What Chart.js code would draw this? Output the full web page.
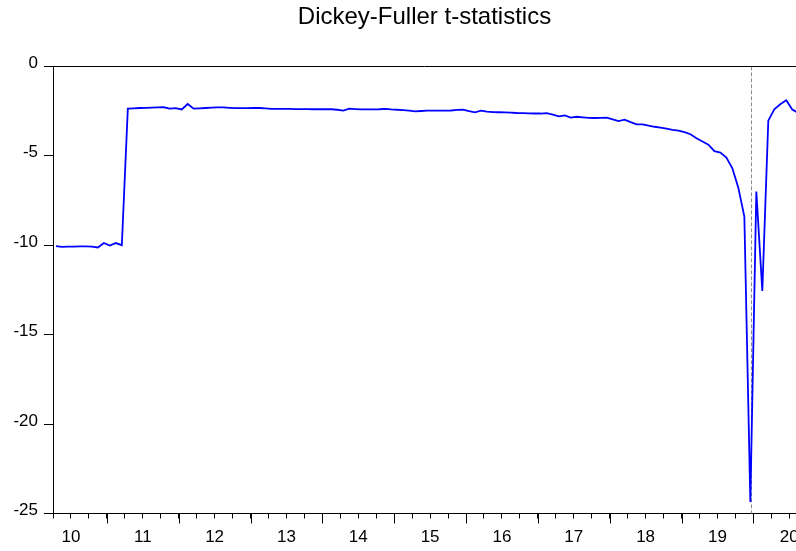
<!DOCTYPE html>
<html>
<head>
<meta charset="utf-8">
<script src="https://cdn.jsdelivr.net/npm/chart.js@4.4.0/dist/chart.umd.min.js"></script>
<style>
html, body { margin: 0; padding: 0; background: #fff; }
#wrap { width: 796px; height: 551px; position: relative; }
</style>
</head>
<body>
<div id="wrap"><canvas id="dfChart"></canvas></div>
<script>
const chartTitle = "Dickey-Fuller t-statistics";

// monthly t-statistics, first observation 2010M04
const startYear = 2010, startMonth = 4;
const df2010 = [-10.05, -10.10, -10.08, -10.08, -10.07, -10.07, -10.08, -10.13, -9.88];
const df2011 = [-10.02, -9.88, -10.00, -2.37, -2.35, -2.33, -2.32, -2.31, -2.30, -2.29, -2.37, -2.34];
const df2012 = [-2.41, -2.11, -2.37, -2.35, -2.33, -2.31, -2.30, -2.30, -2.32, -2.34, -2.34, -2.34];
const df2013 = [-2.33, -2.33, -2.35, -2.38, -2.38, -2.38, -2.38, -2.39, -2.39, -2.39, -2.40, -2.40];
const df2014 = [-2.40, -2.40, -2.43, -2.48, -2.37, -2.39, -2.41, -2.41, -2.41, -2.40, -2.38, -2.41];
const df2015 = [-2.43, -2.45, -2.48, -2.52, -2.50, -2.48, -2.48, -2.48, -2.48, -2.47, -2.44, -2.42];
const df2016 = [-2.50, -2.57, -2.48, -2.53, -2.56, -2.57, -2.58, -2.59, -2.61, -2.62, -2.63, -2.64];
const df2017 = [-2.64, -2.62, -2.70, -2.80, -2.74, -2.87, -2.82, -2.85, -2.88, -2.89, -2.88, -2.87];
const df2018 = [-2.97, -3.06, -2.98, -3.12, -3.25, -3.25, -3.32, -3.38, -3.43, -3.48, -3.55, -3.60];
const df2019 = [-3.68, -3.80, -4.02, -4.20, -4.38, -4.74, -4.82, -5.10, -5.70, -6.80, -8.40, -24.35];
const df2020 = [-7.00, -12.56, -3.04, -2.40, -2.12, -1.90, -2.42, -2.60];

const yearLabels = ["10", "11", "12", "13", "14", "15", "16", "17", "18", "19", "20"];
const yTicks = [0, -5, -10, -15, -20, -25];
const xMin = 2010.25, xMax = 2020.594;
const breakDate = 2019.97;

const allValues = [].concat(df2010, df2011, df2012, df2013, df2014, df2015,
                            df2016, df2017, df2018, df2019, df2020);
const points = allValues.map((v, i) => ({
    x: startYear + (startMonth - 1 + i + 0.5) / 12,
    y: v
}));

const fontFamily = "'Liberation Sans', Arial, sans-serif";
const majorTickLen = 10;

const framePlugin = {
    id: "frame",
    beforeDatasetsDraw(chart) {
        const {ctx, chartArea: a, scales: {x}} = chart;
        const bx = Math.round(x.getPixelForValue(breakDate)) + 0.5;
        ctx.save();
        ctx.strokeStyle = "#8c8c8c";
        ctx.lineWidth = 1;
        ctx.setLineDash([4, 2]);
        ctx.beginPath();
        ctx.moveTo(bx, a.top);
        ctx.lineTo(bx, a.bottom);
        ctx.stroke();
        ctx.restore();
    },
    afterDraw(chart) {
        const {ctx, chartArea: a, scales: {x}} = chart;
        ctx.save();
        ctx.strokeStyle = "#000";
        ctx.lineWidth = 1;
        ctx.beginPath();
        ctx.moveTo(a.left, Math.round(a.top) + 0.5);
        ctx.lineTo(a.right, Math.round(a.top) + 0.5);
        yearLabels.forEach(lbl => {
            const yr = 2000 + Number(lbl);
            if (yr <= xMin) return;
            const px = Math.round(x.getPixelForValue(yr)) + 0.5;
            ctx.moveTo(px, a.bottom);
            ctx.lineTo(px, a.bottom + majorTickLen);
        });
        ctx.stroke();
        ctx.restore();
    }
};

new Chart(document.getElementById("dfChart"), {
    type: "line",
    data: {
        datasets: [{
            data: points,
            borderColor: "#0000ff",
            borderWidth: 1.8,
            pointRadius: 0,
            tension: 0,
            fill: false
        }]
    },
    options: {
        responsive: true,
        maintainAspectRatio: false,
        animation: false,
        events: [],
        layout: {padding: 0},
        plugins: {
            legend: {display: false},
            tooltip: {enabled: false},
            title: {
                display: true,
                text: chartTitle,
                fullSize: false,
                color: "#000",
                font: {family: fontFamily, size: 24, weight: "normal"},
                padding: {top: 2.5, bottom: 35}
            }
        },
        scales: {
            x: {
                type: "linear",
                min: xMin,
                max: xMax,
                afterBuildTicks: scale => {
                    const t = [];
                    for (let q = 0; xMin + q * 0.25 <= xMax + 1e-9; q++) t.push({value: xMin + q * 0.25});
                    scale.ticks = t;
                },
                afterFit: scale => {
                    scale.height = 37.5;
                    scale.paddingLeft = 0;
                    scale.paddingRight = 0;
                },
                border: {display: true, color: "#000", width: 1},
                grid: {drawOnChartArea: false, tickLength: 5, color: "#000"},
                ticks: {
                    autoSkip: false,
                    maxRotation: 0,
                    padding: 9,
                    color: "#000",
                    font: {family: fontFamily, size: 17},
                    callback: v => {
                        const frac = v - Math.floor(v);
                        return Math.abs(frac - 0.5) < 1e-6 ? yearLabels[Math.floor(v) - 2010] : "";
                    }
                }
            },
            y: {
                min: -25,
                max: 0,
                afterBuildTicks: scale => { scale.ticks = yTicks.map(v => ({value: v})); },
                afterFit: scale => {
                    scale.width = 53;
                    scale.paddingTop = 0;
                    scale.paddingBottom = 0;
                },
                border: {display: true, color: "#000", width: 1},
                grid: {drawOnChartArea: false, tickLength: 9, color: "#000"},
                ticks: {
                    padding: 6,
                    labelOffset: -3,
                    color: "#000",
                    font: {family: fontFamily, size: 17},
                    callback: v => String(v)
                }
            }
        }
    },
    plugins: [framePlugin]
});
</script>
</body>
</html>
